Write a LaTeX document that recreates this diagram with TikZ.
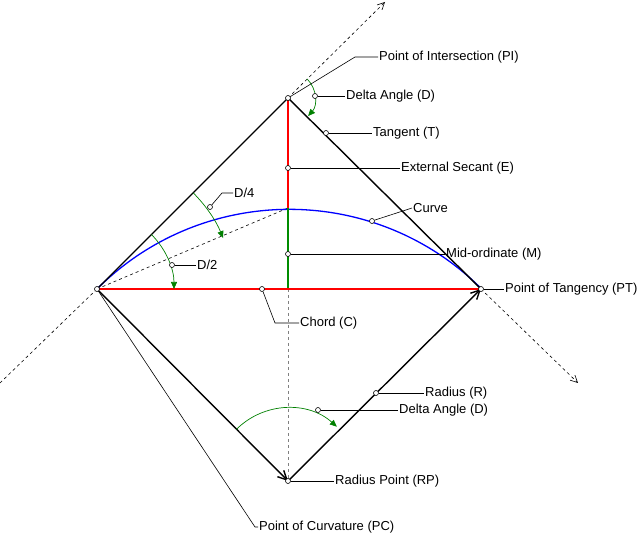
\documentclass[tikz,border=0pt]{standalone}
\usepackage{fontspec}
\setmainfont{Liberation Sans}
\usetikzlibrary{arrows.meta}
\begin{document}
\begin{tikzpicture}[x=1pt,y=-1pt,
  lbl/.style={anchor=west,inner sep=1pt,font=\fontsize{13}{15}\selectfont},
  lead/.style={black,line width=0.6pt},
  dot/.style={circle,draw,fill=white,inner sep=0pt,minimum size=5pt,line width=0.6pt},
  ext/.style={dashed,line width=0.6pt,-{Straight Barb[length=7pt,width=7pt]}},
  ang/.style={green!50!black,line width=0.7pt,-{Triangle[length=7pt,width=6pt]}},
  main/.style={line width=1.4pt}]
\useasboundingbox (0,0) rectangle (643,537);
\coordinate (PC) at (97,289);
\coordinate (PT) at (481,289);
\coordinate (PI) at (288,98);
\coordinate (RP) at (288,481);
\coordinate (M) at (288,208);
\coordinate (E1) at (385,2);
\coordinate (E2) at (0,383);
\coordinate (E3) at (578,383);
% dashed
\draw[ext] (PI) -- (E1);
\draw[dashed,line width=0.6pt] (E2) -- (PC);
\draw[ext] (PT) -- (E3);
\draw[dashed,line width=0.6pt] (PC) -- (M);
\draw[dashed,gray,line width=1pt] (288,289) -- (RP);
% curve
\draw[blue,line width=1.3pt] (PC) arc[start angle=-135,end angle=-45,radius=272];
% tangents
\draw[main] (PC) -- (PI) -- (PT);
\draw[red,line width=1.3pt] (PI) -- (M);
\draw[green!55!black,line width=1.5pt] (M) -- (288,289);
\draw[red,line width=1.3pt] (PC) -- (PT);
\draw[main,-{Straight Barb[length=9pt,width=9pt]}] (PC) -- (RP);
\draw[main,-{Straight Barb[length=9pt,width=9pt]}] (RP) -- (PT);
% angle arcs
\draw[ang] (PI) ++(-45:27) arc[start angle=-45,end angle=42,radius=27];
\draw[ang] (PC) ++(-45:136) arc[start angle=-45,end angle=-22,radius=136];
\draw[ang] (PC) ++(-45:77) arc[start angle=-45,end angle=0,radius=77];
\draw[ang] (RP) ++(-135:73) arc[start angle=-135,end angle=-48,radius=73];
% labels
\node[lbl] (tPI) at (378,57) {Point of Intersection (PI)};
\draw[lead] (PI) -- (355,57) -- (tPI.west);
\node[lbl] (tD1) at (345,96) {Delta Angle (D)};
\node[dot] (dD1) at (315,96) {}; \draw[lead] (dD1) -- (tD1.west);
\node[lbl] (tT) at (372,133) {Tangent (T)};
\node[dot] (dT) at (326,133) {}; \draw[lead] (dT) -- (tT.west);
\node[lbl] (tE) at (400,168) {External Secant (E)};
\node[dot] (dE) at (288,168) {}; \draw[lead] (dE) -- (tE.west);
\node[lbl] (tC) at (412,208) {Curve};
\node[dot] (dC) at (372,221) {}; \draw[lead] (dC) -- (tC.west);
\node[lbl] (tM) at (445,254) {Mid-ordinate (M)};
\node[dot] (dM) at (288,254) {}; \draw[lead] (dM) -- (tM.west);
\node[lbl] (tPT) at (504,289) {Point of Tangency (PT)};
\node[dot] (dPT) at (PT) {}; \draw[lead] (dPT) -- (tPT.west);
\node[lbl] (tCh) at (299,323) {Chord (C)};
\node[dot] (dCh) at (262,289) {}; \draw[lead] (dCh) -- (275,323) -- (tCh.west);
\node[lbl] (tR) at (424,393) {Radius (R)};
\node[dot] (dR) at (376,393) {}; \draw[lead] (dR) -- (tR.west);
\node[lbl] (tD2) at (398,410) {Delta Angle (D)};
\node[dot] (dD2) at (318,410) {}; \draw[lead] (dD2) -- (tD2.west);
\node[lbl] (tRP) at (334,481) {Radius Point (RP)};
\node[dot] (dRP) at (RP) {}; \draw[lead] (dRP) -- (tRP.west);
\node[lbl] (tPC) at (258,527) {Point of Curvature (PC)};
\draw[lead] (PC) -- (255,527) -- (tPC.west);
\node[lbl] (tD4) at (233,193) {D/4};
\node[dot] (dD4) at (210,207) {}; \draw[lead] (dD4) -- (222,193) -- (tD4.west);
\node[lbl] (tD3) at (196,265) {D/2};
\node[dot] (dD3) at (172,265) {}; \draw[lead] (dD3) -- (tD3.west);
\node[dot] at (PI) {};
\node[dot] at (PC) {};
\end{tikzpicture}
\end{document}
